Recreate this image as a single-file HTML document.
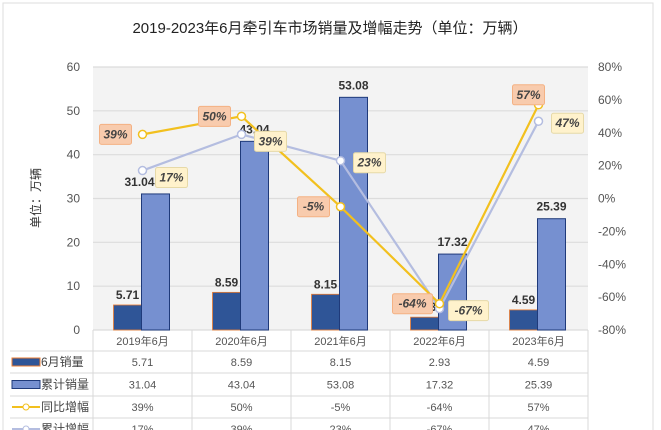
<!DOCTYPE html>
<html><head><meta charset="utf-8"><style>
body{margin:0;background:#fff;}
svg{display:block;font-family:"Liberation Sans","Noto Sans CJK SC",sans-serif;}
</style></head><body>
<svg id="c" width="661" height="430"></svg>
<script>
const categories=["2019年6月","2020年6月","2021年6月","2022年6月","2023年6月"];
const juneSales=[5.71,8.59,8.15,2.93,4.59];
const cumSales=[31.04,43.04,53.08,17.32,25.39];
const yoyGrowth=[39,50,-5,-64,57];
const cumGrowth=[17,39,23,-67,47];
const leftTicks=[0,10,20,30,40,50,60];
const rightTicks=[-80,-60,-40,-20,0,20,40,60,80];

const NS="http://www.w3.org/2000/svg";
const svg=document.getElementById('c');
function mk(t,a,txt){const e=document.createElementNS(NS,t);for(const k in a)e.setAttribute(k,a[k]);if(txt!==undefined)e.textContent=txt;svg.appendChild(e);return e;}
const L=93,R=588,T=67,B=330,cw=(R-L)/categories.length;
const yL=v=>B-(v/60)*(B-T);
const yR=v=>B-((v+80)/160)*(B-T);
const cx=i=>L+cw*(i+0.5);

let e=mk('rect',{x:3,y:3,width:650,height:430,fill:'#fff',stroke:'#ddd'});

e=mk('text',{x:330,y:33,'text-anchor':'middle','font-size':15,fill:'#222'},'2019-2023年6月牵引车市场销量及增幅走势（单位：万辆）');

e=mk('rect',{x:L,y:T,width:R-L,height:B-T,fill:'#f3f3f3'});

leftTicks.forEach(v=>{
  e=mk('line',{x1:L,x2:R,y1:yL(v),y2:yL(v),stroke:'#dcdcdc','stroke-width':1.2});
  
  e=mk('text',{x:80,y:yL(v)+4,'text-anchor':'end','font-size':12,fill:'#555'},v);
  
});
rightTicks.forEach(v=>{
  e=mk('text',{x:598,y:yR(v)+4,'font-size':12,fill:'#555'},v+'%');
  
});
e=mk('text',{x:0,y:0,'font-size':12,fill:'#333',transform:'translate(40,198) rotate(-90)','text-anchor':'middle'},'单位：万辆');


const bw=28;
categories.forEach((c,i)=>{
  const x=cx(i);
  e=mk('rect',{x:x-bw-1,y:yL(juneSales[i]),width:bw,height:B-yL(juneSales[i]),fill:'#2f5597',stroke:'#ed7d31','stroke-width':0.8});
  
  e=mk('rect',{x:x-1,y:yL(cumSales[i]),width:bw,height:B-yL(cumSales[i]),fill:'#7690d0',stroke:'#1f3a7a','stroke-width':1});
  
  e=mk('text',{x:x-bw/2-1,y:yL(juneSales[i])-6,'text-anchor':'middle','font-size':12,'font-weight':'bold',fill:'#333'},juneSales[i].toFixed(2));
  
  e=mk('text',{x:x+bw/2-1-(i==0?16:0),y:yL(cumSales[i])-8,'text-anchor':'middle','font-size':12,'font-weight':'bold',fill:'#333'},cumSales[i].toFixed(2));
  
});
function line(arr,col,name){
  const pts=arr.map((v,i)=>cx(i)+','+yR(v)).join(' ');
  e=mk('polyline',{points:pts,fill:'none',stroke:col,'stroke-width':2.2});
  
  arr.forEach((v,i)=>{
    e=mk('circle',{cx:cx(i),cy:yR(v),r:4,fill:'#fff',stroke:col,'stroke-width':1.5});
    
  });
}
line(cumGrowth,'#b4bde0','cum-growth');
line(yoyGrowth,'#f2c01e','yoy-growth');
function box(x,y,txt,fill,stroke,name){
  const w=txt.length*8+8;
  e=mk('rect',{x:x-w/2,y:y-10,width:w,height:20,fill:fill,stroke:stroke,rx:2});
  
  e=mk('text',{x:x,y:y+4,'text-anchor':'middle','font-size':12,'font-style':'italic','font-weight':'bold',fill:'#444'},txt);
  
}
yoyGrowth.forEach((v,i)=>{
  const dx=i==4?-10:-27, dy=i==4?-10:0;
  box(cx(i)+dx,yR(v)+dy,v+'%','#f8cbad','#f4b183','label-yoy');
});
cumGrowth.forEach((v,i)=>{
  const dy=i<2?7:2;
  box(cx(i)+29,yR(v)+dy,v+'%','#fff2cc','#e6d9a8','label-cum');
});

// table
const rows=[330,351,373,396,418,440];
for(let r=1;r<rows.length-1;r++){
  e=mk('line',{x1:10,x2:R,y1:rows[r],y2:rows[r],stroke:'#d9d9d9'});
  
}
for(let i=0;i<=categories.length;i++){
  e=mk('line',{x1:L+cw*i,x2:L+cw*i,y1:B,y2:430,stroke:'#d9d9d9'});
  
}
categories.forEach((c,i)=>{
  e=mk('text',{x:cx(i),y:345,'text-anchor':'middle','font-size':11,fill:'#555'},c);
  
});
const tbl=[juneSales.map(v=>v.toFixed(2)),cumSales.map(v=>v.toFixed(2)),yoyGrowth.map(v=>v+'%'),cumGrowth.map(v=>v+'%')];
const names=['6月销量','累计销量','同比增幅','累计增幅'];
tbl.forEach((row,r)=>{
  const ym=(rows[r+1]+rows[r+2])/2;
  if(r<2){
    e=mk('rect',{x:12,y:ym-4,width:28,height:8,fill:r==0?'#2f5597':'#7690d0',stroke:r==0?'#ed7d31':'#1f3a7a'});
  } else {
    const col=r==2?'#f2c01e':'#b4bde0';
    e=mk('line',{x1:12,x2:40,y1:ym,y2:ym,stroke:col,'stroke-width':2});
    mk('circle',{cx:26,cy:ym,r:3,fill:'#fff',stroke:col});
  }
  
  e=mk('text',{x:41,y:ym+4,'font-size':12,fill:'#444'},names[r]);
  
  row.forEach((t,i)=>{
    e=mk('text',{x:cx(i),y:ym+4,'text-anchor':'middle','font-size':11,fill:'#555'},t);
    
  });
});
</script>
</body></html>
